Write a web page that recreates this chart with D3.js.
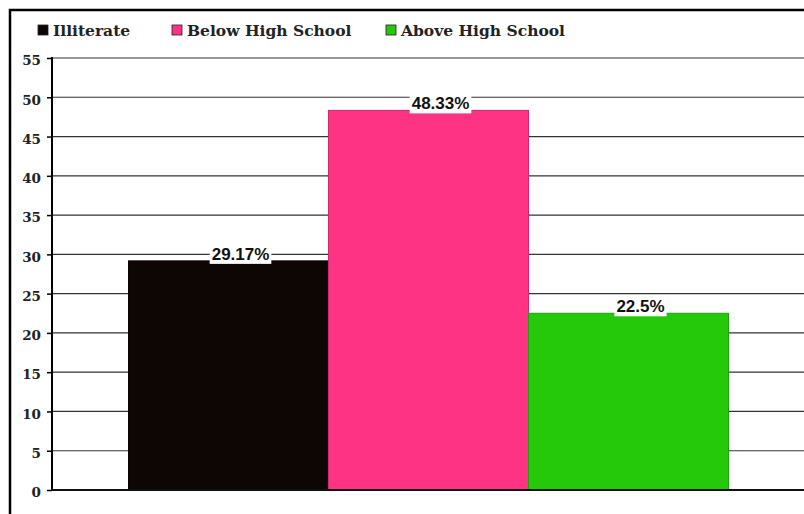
<!DOCTYPE html>
<html>
<head>
<meta charset="utf-8">
<script src="https://cdn.jsdelivr.net/npm/d3@7"></script>
<style>
  body { margin: 0; background: #fff; }
  svg { display: block; }
</style>
</head>
<body>
<svg id="chart" width="804" height="514"></svg>
<script>
const categories = ['Illiterate', 'Below High School', 'Above High School']
const values = [29.17, 48.33, 22.5]
const labels = ['29.17%', '48.33%', '22.5%']
const colors = ['#0e0505', '#fe3384', '#26c90a']
const yTicks = [0, 5, 10, 15, 20, 25, 30, 35, 40, 45, 50, 55]

let svg = d3.select('#chart')

// frame
svg.append('path')
.attr('d', 'M10,514 L10,10 L804,10')
.attr('fill', 'none')
.attr('stroke', '#000')
.attr('stroke-width', 2.5)

let x = d3.scaleBand()
.domain(categories)
.range([52, 805])
.paddingInner(0)
.paddingOuter(0.3825)

let y = d3.scaleLinear()
.domain([0, 55])
.range([490, 58])

// grid
svg.selectAll('line.grid')
.data(yTicks.slice(1))
.enter()
.append('line')
.attr('class', 'grid')
.attr('x1', 52)
.attr('x2', 804)
.attr('y1', d => y(d))
.attr('y2', d => y(d))
.attr('stroke', '#333')
.attr('stroke-width', 1.2)

// bars
svg.selectAll('rect.bar')
.data(values)
.enter()
.append('rect')
.attr('class', 'bar')
.attr('x', (d, i) => x(categories[i]))
.attr('y', d => y(d))
.attr('width', x.bandwidth())
.attr('height', d => y(0) - y(d))
.attr('fill', (d, i) => colors[i])
.attr('stroke', (d, i) => d3.color(colors[i]).darker(0.6))
.attr('stroke-width', 1)

// y axis
let yAxis = d3.axisLeft(y)
.tickValues(yTicks)
.tickSize(5)
.tickPadding(6)

let ax = svg.append('g')
.attr('transform', 'translate(52,0)')
.call(yAxis)
ax.select('.domain').remove()
ax.selectAll('.tick line').attr('stroke', '#000').attr('stroke-width', 1.5)
ax.selectAll('.tick text')
.attr('font-family', '"DejaVu Serif", serif')
.attr('font-weight', 'bold')
.attr('font-size', 13.5)
.attr('fill', '#222')
.attr('dy', '0.5em')

svg.append('line')
.attr('x1', 52).attr('x2', 52)
.attr('y1', 57).attr('y2', 491)
.attr('stroke', '#000').attr('stroke-width', 2)

svg.append('line')
.attr('x1', 51).attr('x2', 804)
.attr('y1', 490).attr('y2', 490)
.attr('stroke', '#111').attr('stroke-width', 2)

// value labels
let lab = svg.selectAll('g.vlabel')
.data(values)
.enter()
.append('g')
.attr('class', 'vlabel')
.attr('transform', (d, i) => `translate(${x(categories[i]) + x.bandwidth() / 2 + 12},${y(d) - 1})`)

lab.append('text')
.attr('text-anchor', 'middle')
.attr('font-family', '"Liberation Sans", Arial, sans-serif')
.attr('font-weight', 'bold')
.attr('font-size', 17)
.attr('fill', '#111')
.text((d, i) => labels[i])

lab.each(function () {
    let g = d3.select(this)
    let b = g.select('text').node().getBBox()
    g.insert('rect', 'text')
    .attr('x', b.x - 2)
    .attr('y', b.y + 1)
    .attr('width', b.width + 4)
    .attr('height', b.height - 1)
    .attr('fill', '#fff')
})

// legend
let legendX = [38, 172, 386]
let leg = svg.selectAll('g.legend')
.data(categories)
.enter()
.append('g')
.attr('class', 'legend')
.attr('transform', (d, i) => `translate(${legendX[i]},25)`)

leg.append('rect')
.attr('width', 10)
.attr('height', 10)
.attr('fill', (d, i) => colors[i])
.attr('stroke', '#222')
.attr('stroke-width', 0.8)

leg.append('text')
.attr('x', 15)
.attr('y', 10.5)
.attr('font-family', '"DejaVu Serif", serif')
.attr('font-weight', 'bold')
.attr('font-size', 15.5)
.attr('fill', '#222')
.text(d => d)
</script>
</body>
</html>
